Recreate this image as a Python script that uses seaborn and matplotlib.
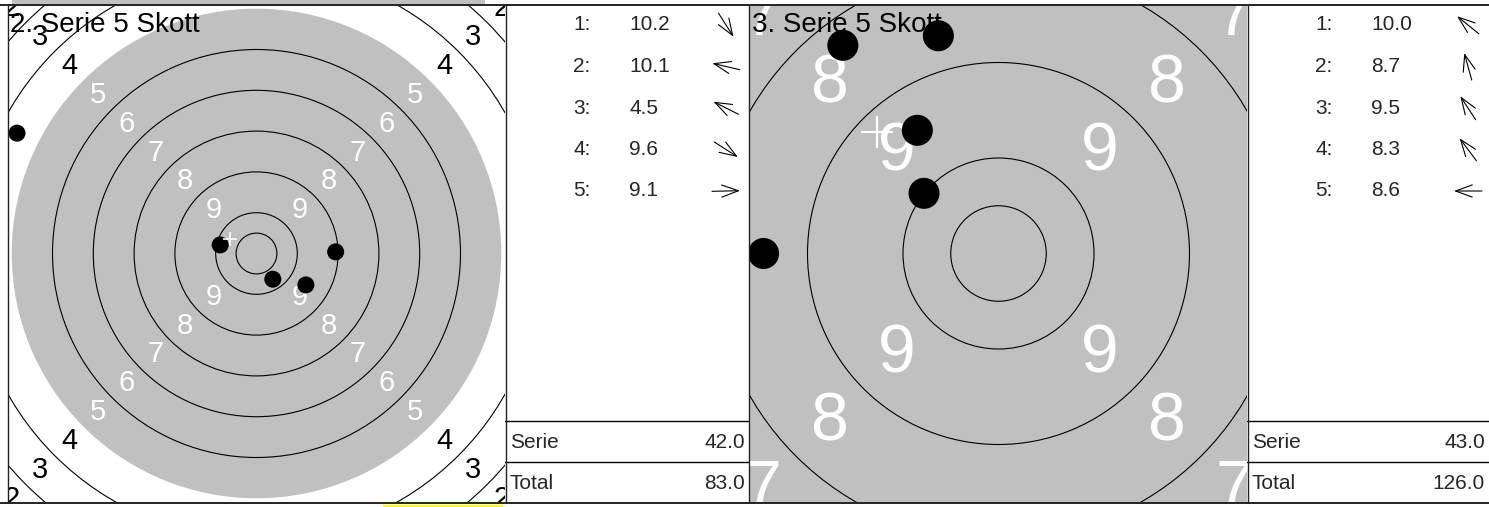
import seaborn as sns
import matplotlib.pyplot as plt
import numpy as np
import pandas as pd
from matplotlib.patches import Circle, Rectangle
from matplotlib.lines import Line2D

# figure size in pixels
W, H = 1489, 507

# shots: position in ring widths from the target centre, and shown scores
titles = ["2. Serie 5 Skott", "3. Serie 5 Skott"]
shot_x_s2 = [0.40, -0.89, -5.87, 1.21, 1.94]
shot_y_s2 = [-0.63, 0.21, 2.95, -0.77, 0.04]
scores_s2 = [10.2, 10.1, 4.5, 9.6, 9.1]
shot_x_s3 = [-0.78, -0.63, -0.85, -1.63, -2.46]
shot_y_s3 = [0.63, 2.28, 1.29, 2.18, 0.00]
scores_s3 = [10.0, 8.7, 9.5, 8.3, 8.6]
serie_sums = [42.0, 43.0]
totals = [83.0, 126.0]

sns.set_style("white")
plt.rcParams['font.family'] = ['Liberation Sans', 'DejaVu Sans']

fig = plt.figure(figsize=(W / 100, H / 100), dpi=100)


def fx(x):
    return x / W


def fy(y):
    return 1 - y / H


def draw_target(x0, half_w, title, xs, ys, shot_s, label_fs, cross_s, cross_lw):
    ax = fig.add_axes([fx(x0), fy(502), 497 / W, 497 / H])
    ax.set_xlim(-half_w, half_w)
    ax.set_ylim(-half_w, half_w)
    ax.set_facecolor('white')
    # black area (drawn gray) = rings 5..10
    ax.add_patch(Circle((0, 0), 6, color='#c0c0c0', lw=0, zorder=0))
    for r in [0.5, 1, 2, 3, 4, 5, 7, 8, 9, 10]:
        ax.add_patch(Circle((0, 0), r, fill=False, ec='black', lw=0.8, zorder=1))
    # ring numbers on the diagonals
    for k in range(1, 10):
        d = (10.5 - k) / np.sqrt(2)
        col = 'white' if k >= 5 else 'black'
        for sx, sy in [(-1, 1), (1, 1), (-1, -1), (1, -1)]:
            ax.text(sx * d, sy * d, str(k), color=col, fontsize=label_fs,
                    ha='center', va='center', clip_on=True, zorder=2)
    df = pd.DataFrame({'x': xs, 'y': ys})
    sns.scatterplot(data=df, x='x', y='y', color='black', s=shot_s,
                    edgecolor='none', legend=False, ax=ax, zorder=4)
    # mean point of impact
    ax.scatter([np.mean(xs)], [np.mean(ys)], marker='+', s=cross_s,
               color='white', lw=cross_lw, zorder=5)
    ax.set_xlim(-half_w, half_w)
    ax.set_ylim(-half_w, half_w)
    ax.axis('off')
    fig.text(fx(x0 + 2), fy(32), title, fontsize=20, color='black', va='baseline')


def draw_table(x0, width, scores, xs, ys, serie, total):
    ax = fig.add_axes([fx(x0), fy(502), width / W, 497 / H])
    ax.set_xlim(0, width)
    ax.set_ylim(497, 0)
    ax.axis('off')
    for i, sc in enumerate(scores):
        yc = 20 + i * 41.5
        ax.text(68, yc, f"{i + 1}:", fontsize=15, va='center', ha='left')
        ax.text(124, yc, f"{sc:.1f}", fontsize=15, va='center', ha='left')
        ang = np.arctan2(ys[i], xs[i])
        dx, dy = np.cos(ang), -np.sin(ang)
        ax.annotate('', xy=(221 + 14 * dx, yc + 14 * dy),
                    xytext=(221 - 14 * dx, yc - 14 * dy),
                    arrowprops=dict(arrowstyle='->,head_length=0.6,head_width=0.22',
                                    lw=0.8, color='black', mutation_scale=20,
                                    shrinkA=0, shrinkB=0))
    ax.axhline(416, color='black', lw=1)
    ax.axhline(457, color='black', lw=1)
    ax.text(5, 437, "Serie", fontsize=15, va='center', ha='left')
    ax.text(width - 4, 437, f"{serie:.1f}", fontsize=15, va='center', ha='right')
    ax.text(5, 478, "Total", fontsize=15, va='center', ha='left')
    ax.text(width - 4, 478, f"{total:.1f}", fontsize=15, va='center', ha='right')


draw_target(8, 497 / 40.8 / 2, titles[0], shot_x_s2, shot_y_s2, 150, 21, 110, 1.2)
draw_table(505, 244, scores_s2, shot_x_s2, shot_y_s2, serie_sums[0], totals[0])
draw_target(750, 497 / 95.5 / 2, titles[1], shot_x_s3, shot_y_s3, 500, 49, 560, 1.6)
draw_table(1247, 242, scores_s3, shot_x_s3, shot_y_s3, serie_sums[1], totals[1])

# cut-off neighbours of the screenshot
fig.add_artist(Rectangle((fx(12), fy(3.5)), 473 / W, 3.5 / H, color='#c0c0c0',
                         transform=fig.transFigure, lw=0))
fig.add_artist(Rectangle((fx(383), fy(507)), 120 / W, 2.5 / H, color='#ffff00',
                         transform=fig.transFigure, lw=0))

# frame lines
for yy in [4.5, 502.5]:
    fig.add_artist(Line2D([0, 1], [fy(yy), fy(yy)], color='#222222', lw=1.4,
                          transform=fig.transFigure))
for xx in [8, 505.5, 749, 1247.5]:
    fig.add_artist(Line2D([fx(xx), fx(xx)], [fy(4.5), fy(502.5)], color='#222222',
                          lw=1.0, transform=fig.transFigure))

fig.savefig('out.png', dpi=100)
